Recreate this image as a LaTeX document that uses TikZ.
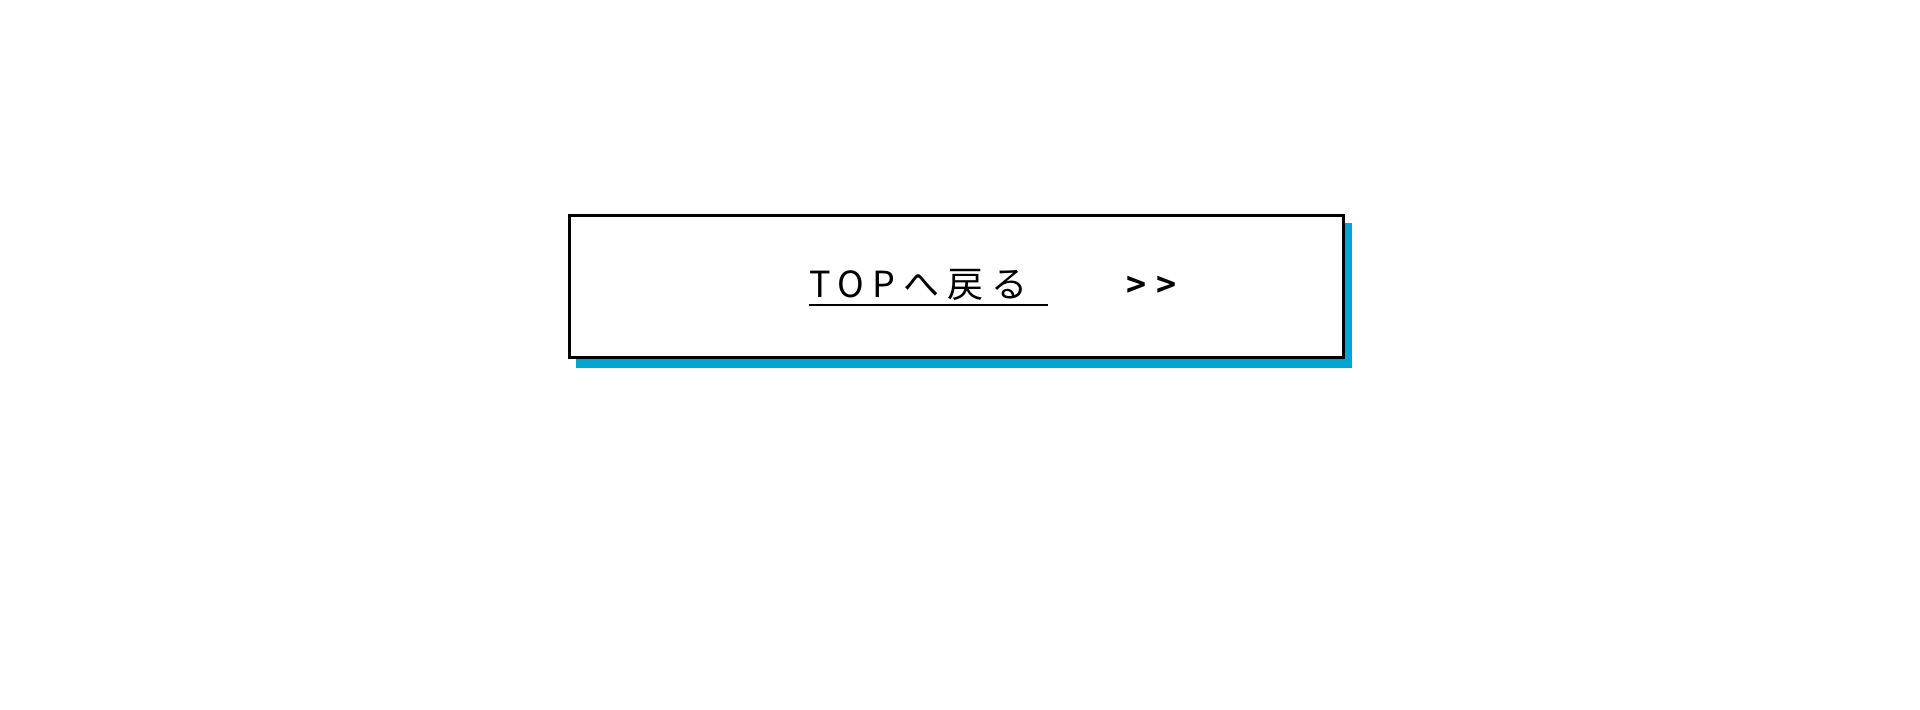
\documentclass[tikz,border=0pt]{standalone}
\usepackage{fontspec}
\newfontfamily\cjk[LetterSpace=22]{Noto Sans CJK JP}
\newfontfamily\cjkb{Noto Sans CJK JP Bold}
\definecolor{shadow}{HTML}{00A6D2}
\begin{document}
\begin{tikzpicture}[x=0.5pt,y=-0.5pt]
\useasboundingbox (0,0) rectangle (1920,710);
\fill[shadow] (576,223) rectangle (1352,368);
\draw[line width=1.5pt,fill=white] (569,216) rectangle (1343,358);
\node[anchor=base west,inner sep=0pt,font=\cjk\fontsize{18}{20}\selectfont] (t) at (809,298) {TOPへ戻る};
\draw[line width=0.8pt] (809,305) -- (1048,305);
\node[anchor=base west,inner sep=0pt,font=\cjkb\fontsize{17}{20}\selectfont] (g) at (1126,298) {>\hspace{5pt}>};
\end{tikzpicture}
\end{document}
